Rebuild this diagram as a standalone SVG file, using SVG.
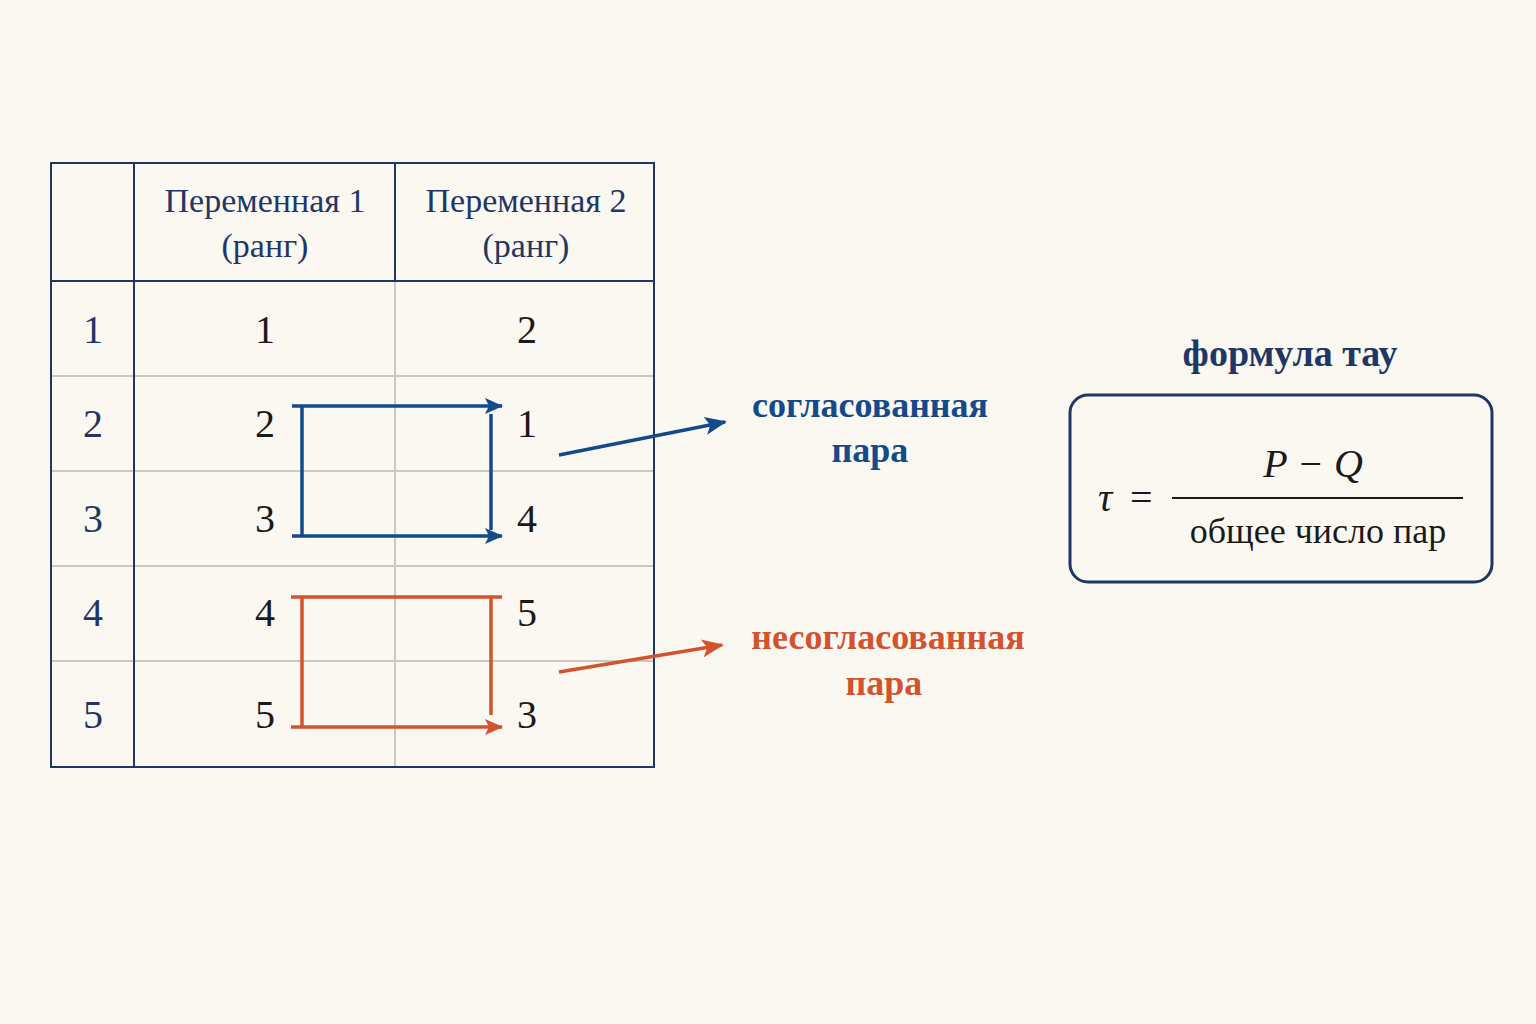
<svg xmlns="http://www.w3.org/2000/svg" width="1536" height="1024" viewBox="0 0 1536 1024">
<style>
text{font-family:"Liberation Serif","DejaVu Serif",serif;}
.n{font-size:40px;fill:#1a1a1a;text-anchor:middle}
.r{font-size:40px;fill:#1f3766;text-anchor:middle}
.h{font-size:34px;fill:#1f3766;text-anchor:middle}
.g{stroke:#c8c8c4;stroke-width:2;fill:none}
.b{stroke:#1f3766;stroke-width:2;fill:none}
.bl{stroke:#134a8c;stroke-width:3.5;fill:none}
.or{stroke:#d4532f;stroke-width:3.5;fill:none}
</style>
<defs>
<marker id="ab" markerWidth="10" markerHeight="10" refX="9" refY="5" orient="auto" markerUnits="userSpaceOnUse" viewBox="0 0 10 10"><path d="M0,0 L10,5 L0,10 L2,5 Z" fill="#134a8c"/></marker>
<marker id="ao" markerWidth="10" markerHeight="10" refX="9" refY="5" orient="auto" markerUnits="userSpaceOnUse" viewBox="0 0 10 10"><path d="M0,0 L10,5 L0,10 L2,5 Z" fill="#d4532f"/></marker>
<marker id="abL" markerWidth="22" markerHeight="22" refX="20" refY="11" orient="auto" markerUnits="userSpaceOnUse"><path d="M0,2 L22,11 L0,20 L5,11 Z" fill="#134a8c"/></marker>
<marker id="aoL" markerWidth="22" markerHeight="22" refX="20" refY="11" orient="auto" markerUnits="userSpaceOnUse"><path d="M0,2 L22,11 L0,20 L5,11 Z" fill="#d4532f"/></marker>
<marker id="abS" markerWidth="18" markerHeight="18" refX="17" refY="9" orient="auto" markerUnits="userSpaceOnUse"><path d="M0,1 L18,9 L0,17 L4,9 Z" fill="#134a8c"/></marker>
<marker id="aoS" markerWidth="18" markerHeight="18" refX="17" refY="9" orient="auto" markerUnits="userSpaceOnUse"><path d="M0,1 L18,9 L0,17 L4,9 Z" fill="#d4532f"/></marker>
</defs>
<rect width="1536" height="1024" fill="#fbf8f2"/>
<g id="table">
<path class="g" d="M134 376H654M134 471H654M134 566H654M134 661H654M51 376H134M51 471H134M51 566H134M51 661H134M395 281V767"/>
<path class="b" d="M51 163H654V767H51Z M134 163V767 M395 163V281 M51 281H654"/>
<text class="h" x="265" y="212">Переменная 1</text>
<text class="h" x="265" y="257">(ранг)</text>
<text class="h" x="526" y="212">Переменная 2</text>
<text class="h" x="526" y="257">(ранг)</text>
<text class="r" x="93" y="343">1</text><text class="r" x="93" y="437">2</text><text class="r" x="93" y="532">3</text><text class="r" x="93" y="626">4</text><text class="r" x="93" y="728">5</text>
<text class="n" x="265" y="343">1</text><text class="n" x="265" y="437">2</text><text class="n" x="265" y="532">3</text><text class="n" x="265" y="626">4</text><text class="n" x="265" y="728">5</text>
<text class="n" x="527" y="343">2</text><text class="n" x="527" y="437">1</text><text class="n" x="527" y="532">4</text><text class="n" x="527" y="626">5</text><text class="n" x="527" y="728">3</text>
</g>
<g id="connectors">
<path class="bl" d="M292 406H502" marker-end="url(#abS)"/>
<path class="bl" d="M292 536H502" marker-end="url(#abS)"/>
<path class="bl" d="M302 406V536M491 414V530"/>
<path class="or" d="M291 597H502M302 597V727M491 597V715"/>
<path class="or" d="M291 727H502" marker-end="url(#aoS)"/>
<path class="bl" d="M559 455L725 422" marker-end="url(#abL)"/>
<path class="or" d="M559 672L722 645" marker-end="url(#aoL)"/>
</g>
<g id="labels">
<text x="870" y="417" font-size="36" fill="#134a8c" text-anchor="middle" font-weight="bold">согласованная</text>
<text x="870" y="462" font-size="36" fill="#134a8c" text-anchor="middle" font-weight="bold">пара</text>
<text x="888" y="649" font-size="36" fill="#d4532f" text-anchor="middle" font-weight="bold">несогласованная</text>
<text x="884" y="695" font-size="36" fill="#d4532f" text-anchor="middle" font-weight="bold">пара</text>
</g>
<g id="formula">
<text x="1290" y="366" font-size="38" fill="#1f3766" text-anchor="middle" font-weight="bold">формула тау</text>
<rect x="1070" y="395" width="422" height="187" rx="18" fill="none" stroke="#1f3766" stroke-width="3"/>
<text x="1098" y="511" font-size="40" fill="#1a1a1a" font-style="italic">τ</text>
<text x="1130" y="511" font-size="40" fill="#1a1a1a">=</text>
<text x="1313" y="477" font-size="40" fill="#1a1a1a" text-anchor="middle" font-style="italic">P − Q</text>
<line x1="1172" y1="498" x2="1463" y2="498" stroke="#1a1a1a" stroke-width="2"/>
<text x="1318" y="543" font-size="36" fill="#1a1a1a" text-anchor="middle">общее число пар</text>
</g>
</svg>
